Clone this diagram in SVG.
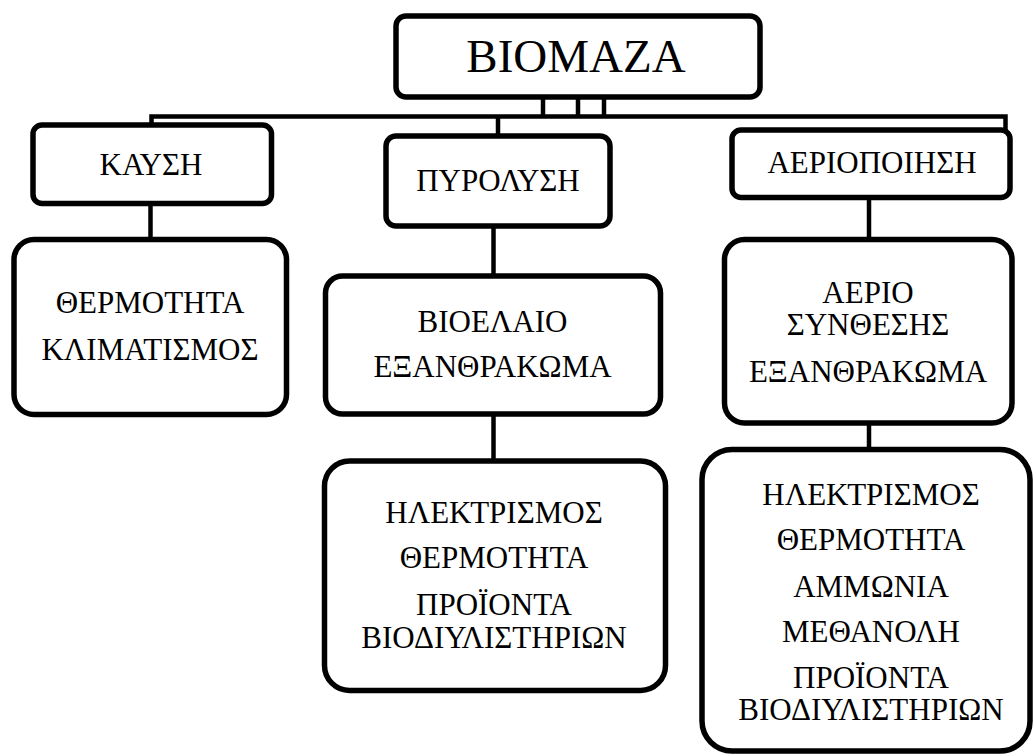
<svg xmlns="http://www.w3.org/2000/svg" width="1034" height="756" viewBox="0 0 1034 756">
<style>
.box{fill:#fff;stroke:#000;stroke-width:5.5}
.ln{stroke:#000;stroke-width:4.5;fill:none}
text{font-family:"Liberation Serif","Times New Roman",serif;fill:#000;text-anchor:middle}
.t{font-size:31px}
.big{font-size:47px}
</style>
<rect width="1034" height="756" fill="#fff"/>
<g id="connectors">
<line class="ln" x1="543" y1="97" x2="543" y2="116"/>
<line class="ln" x1="578" y1="97" x2="578" y2="116"/>
<line class="ln" x1="604" y1="97" x2="604" y2="116"/>
<polyline class="ln" points="151.5,125 151.5,116.5 1005.5,116.5 1005.5,130"/>
<line class="ln" x1="498" y1="116" x2="498" y2="136"/>
<line class="ln" x1="150.5" y1="203" x2="150.5" y2="240"/>
<line class="ln" x1="493.5" y1="226" x2="493.5" y2="276"/>
<line class="ln" x1="493.5" y1="414" x2="493.5" y2="461"/>
<line class="ln" x1="869" y1="197" x2="869" y2="240"/>
<line class="ln" x1="869" y1="423" x2="869" y2="450"/>
</g>
<g id="biomaza">
<rect class="box" x="396" y="16" width="364" height="81" rx="10"/>
<text class="big" x="576" y="72">ΒΙΟΜΑΖΑ</text>
</g>
<g id="kaysh">
<rect class="box" x="33" y="125" width="238.5" height="78.5" rx="9"/>
<text class="t" x="151" y="175">ΚΑΥΣΗ</text>
</g>
<g id="pyrolysh">
<rect class="box" x="386" y="136" width="224" height="90" rx="10"/>
<text class="t" x="498" y="191">ΠΥΡΟΛΥΣΗ</text>
</g>
<g id="aeriopoihsh">
<rect class="box" x="732" y="130" width="278" height="67.5" rx="9"/>
<text class="t" x="872" y="173">ΑΕΡΙΟΠΟΙΗΣΗ</text>
</g>
<g id="kaysh-products">
<rect class="box" x="14" y="239.5" width="272.5" height="175" rx="20"/>
<text class="t" x="150" y="313">ΘΕΡΜΟΤΗΤΑ</text>
<text class="t" x="150" y="360">ΚΛΙΜΑΤΙΣΜΟΣ</text>
</g>
<g id="pyrolysh-products">
<rect class="box" x="325.5" y="276" width="335" height="138" rx="17"/>
<text class="t" x="492.5" y="331.5">ΒΙΟΕΛΑΙΟ</text>
<text class="t" x="492.5" y="377">ΕΞΑΝΘΡΑΚΩΜΑ</text>
</g>
<g id="pyrolysh-uses">
<rect class="box" x="324.5" y="461" width="341" height="229.5" rx="25"/>
<text class="t" x="494" y="523">ΗΛΕΚΤΡΙΣΜΟΣ</text>
<text class="t" x="494" y="568">ΘΕΡΜΟΤΗΤΑ</text>
<text class="t" x="494" y="615">ΠΡΟΪΟΝΤΑ</text>
<text class="t" x="494" y="648">ΒΙΟΔΙΥΛΙΣΤΗΡΙΩΝ</text>
</g>
<g id="aeriopoihsh-products">
<rect class="box" x="724.5" y="239.5" width="287.5" height="183.5" rx="20"/>
<text class="t" x="868" y="302.5">ΑΕΡΙΟ</text>
<text class="t" x="868" y="335">ΣΥΝΘΕΣΗΣ</text>
<text class="t" x="868" y="381.5">ΕΞΑΝΘΡΑΚΩΜΑ</text>
</g>
<g id="aeriopoihsh-uses">
<rect class="box" x="702" y="449.5" width="328" height="301.5" rx="30"/>
<text class="t" x="871" y="505">ΗΛΕΚΤΡΙΣΜΟΣ</text>
<text class="t" x="871" y="550">ΘΕΡΜΟΤΗΤΑ</text>
<text class="t" x="871" y="596.5">ΑΜΜΩΝΙΑ</text>
<text class="t" x="871" y="641.5">ΜΕΘΑΝΟΛΗ</text>
<text class="t" x="871" y="688">ΠΡΟΪΟΝΤΑ</text>
<text class="t" x="871" y="720">ΒΙΟΔΙΥΛΙΣΤΗΡΙΩΝ</text>
</g>
</svg>
